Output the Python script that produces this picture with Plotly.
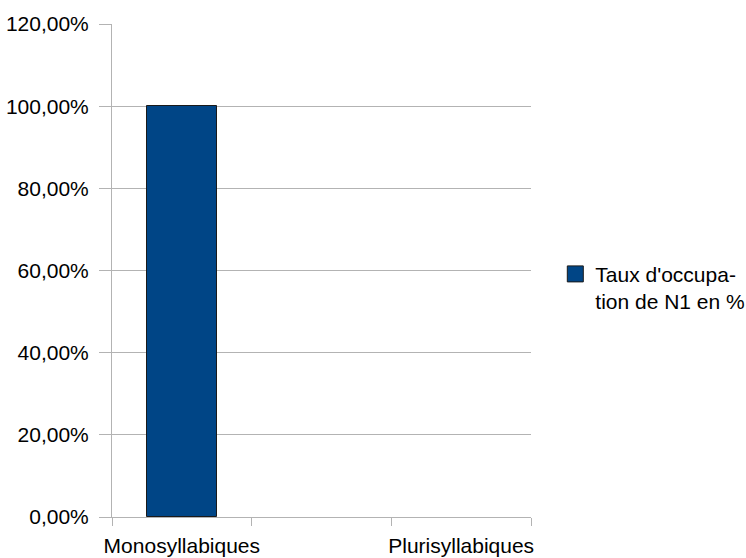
import plotly.graph_objects as go

# Category data
categories = ["Monosyllabiques", "Plurisyllabiques"]
category_pos = [0.5, 2.5]
taux_occupation = [1.00, 0.00]
series_name = "Taux d'occupa-<br>tion de N1 en %"
y_ticks = [0.0, 0.2, 0.4, 0.6, 0.8, 1.0, 1.2]

BAR_COLOR = "#004586"
GRID = "#b3b3b3"
FONT = dict(family="Liberation Sans, Arial, sans-serif", size=21, color="#000000")

fig = go.Figure()

# outline only on bars with a visible height
outline_widths = [1 if v > 0 else 0 for v in taux_occupation]

fig.add_trace(go.Bar(
    x=category_pos,
    y=taux_occupation,
    width=0.5,
    marker=dict(color=BAR_COLOR, line=dict(color="#1a1a1a", width=outline_widths)),
    showlegend=False,
))

# legend entry with a larger square swatch
fig.add_trace(go.Scatter(
    x=[None], y=[None],
    mode="markers",
    name=series_name,
    marker=dict(symbol="square", size=16, color=BAR_COLOR,
                line=dict(color="#1a1a1a", width=1)),
    showlegend=True,
))

fig.update_layout(
    width=746, height=558,
    margin=dict(l=112, r=215, t=24, b=41, autoexpand=False),
    paper_bgcolor="white",
    plot_bgcolor="white",
    font=FONT,
    separators=",.",
    bargap=0,
    legend=dict(
        x=1.058, xanchor="left", xref="paper",
        y=0.465, yanchor="middle",
        valign="top",
        font=FONT,
        itemsizing="trace",
        bgcolor="rgba(0,0,0,0)",
        tracegroupgap=0,
    ),
)

fig.update_xaxes(
    range=[0, 3],
    tickmode="array",
    tickvals=category_pos,
    ticktext=categories,
    ticks="",
    showgrid=False,
    showline=True,
    linecolor=GRID,
    linewidth=1,
    zeroline=False,
    automargin=False,
    ticklabelstandoff=10,
    minor=dict(tickmode="linear", tick0=0, dtick=1, ticks="outside",
               ticklen=8, tickcolor=GRID, tickwidth=1, showgrid=False),
)

fig.update_yaxes(
    range=[0, 1.2],
    tickmode="array",
    tickvals=y_ticks,
    tickformat=".2%",
    ticks="outside",
    ticklen=12,
    tickcolor=GRID,
    showgrid=True,
    gridcolor=GRID,
    gridwidth=1,
    showline=True,
    linecolor=GRID,
    linewidth=1,
    zeroline=False,
    automargin=False,
    ticklabelstandoff=6,
)

fig.write_html("out.html")
